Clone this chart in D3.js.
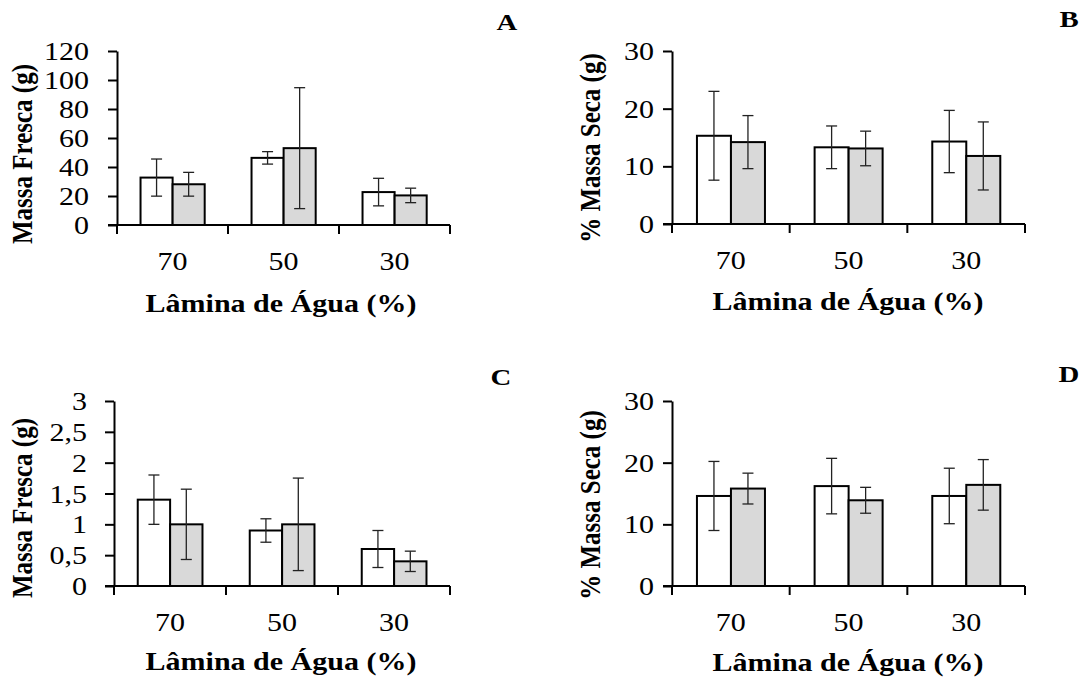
<!DOCTYPE html>
<html>
<head>
<meta charset="utf-8">
<script src="https://cdn.jsdelivr.net/npm/d3@7"></script>
<style>
  body { margin: 0; background: #fff; }
  svg { display: block; }
</style>
</head>
<body>
<div id="chart"></div>
<script>
// Water depth categories (x axis)
const categories = ["70", "50", "30"];
const seriesNames = ["Tratamento 1", "Tratamento 2"];

// Panel A - fresh mass
const aWhite = [32.7, 46.3, 22.7];
const aWhiteErr = [12.8, 4.3, 9.5];
const aGray = [28.1, 53.0, 20.4];
const aGrayErr = [8.2, 41.7, 5.0];
const aTicks = [0, 20, 40, 60, 80, 100, 120];

// Panel B - % dry mass
const bWhite = [15.3, 13.3, 14.3];
const bWhiteErr = [7.7, 3.7, 5.4];
const bGray = [14.2, 13.1, 11.8];
const bGrayErr = [4.6, 3.0, 5.9];
const bTicks = [0, 10, 20, 30];

// Panel C - fresh mass
const cWhite = [1.4, 0.9, 0.6];
const cWhiteErr = [0.4, 0.19, 0.3];
const cGray = [1.0, 1.0, 0.4];
const cGrayErr = [0.57, 0.75, 0.165];
const cTicks = [0, 0.5, 1, 1.5, 2, 2.5, 3];

// Panel D - % dry mass
const dWhite = [14.6, 16.2, 14.6];
const dWhiteErr = [5.6, 4.5, 4.5];
const dGray = [15.8, 13.9, 16.4];
const dGrayErr = [2.5, 2.1, 4.1];
const dTicks = [0, 10, 20, 30];

const width = 1088, height = 679;
const serif = "'Times New Roman', 'Liberation Serif', serif";
const colors = ["#ffffff", "#d9d9d9"];
// the original figure is a bit wider than tall, so text is stretched sideways
const sx = 1.2;

const svg = d3.select("#chart").append("svg")
    .attr("width", width)
    .attr("height", height);

// layout of each panel (plot area in page pixels)
const panels = [
    {letter: "A", ylabel: "Massa Fresca (g)", white: aWhite, whiteErr: aWhiteErr, gray: aGray, grayErr: aGrayErr,
     ticks: aTicks, left: 117, right: 450, top: 51, bottom: 225, labelOff: 28,
     ytitleX: 32, ytitleY: 154, xtitleX: 281, xtitleY: 312, letterX: 507, letterY: 30},
    {letter: "B", ylabel: "% Massa Seca (g)", white: bWhite, whiteErr: bWhiteErr, gray: bGray, grayErr: bGrayErr,
     ticks: bTicks, left: 672, right: 1025, top: 51, bottom: 224, labelOff: 18,
     ytitleX: 600, ytitleY: 148, xtitleX: 848, xtitleY: 310, letterX: 1069, letterY: 27},
    {letter: "C", ylabel: "Massa Fresca (g)", white: cWhite, whiteErr: cWhiteErr, gray: cGray, grayErr: cGrayErr,
     ticks: cTicks, left: 114, right: 450, top: 401, bottom: 586, labelOff: 27,
     ytitleX: 32, ytitleY: 508, xtitleX: 281, xtitleY: 670, letterX: 501, letterY: 385},
    {letter: "D", ylabel: "% Massa Seca (g)", white: dWhite, whiteErr: dWhiteErr, gray: dGray, grayErr: dGrayErr,
     ticks: dTicks, left: 672, right: 1025, top: 401, bottom: 586, labelOff: 18,
     ytitleX: 600, ytitleY: 505, xtitleX: 848, xtitleY: 671, letterX: 1069, letterY: 382}
];

const fmt = v => String(v).replace(".", ",");

panels.forEach(p => {
    const g = svg.append("g");

    const x0 = d3.scaleBand().domain(categories).range([p.left, p.right]).padding(0);
    const x1 = d3.scaleBand().domain(seriesNames)
        .range([x0.bandwidth() * 0.212, x0.bandwidth() * 0.79]).padding(0);
    const y = d3.scaleLinear().domain([0, d3.max(p.ticks)]).range([p.bottom, p.top]);

    // rows of data for bars
    const rows = [];
    categories.forEach((c, i) => {
        rows.push({cat: c, s: seriesNames[0], v: p.white[i], e: p.whiteErr[i], k: 0});
        rows.push({cat: c, s: seriesNames[1], v: p.gray[i], e: p.grayErr[i], k: 1});
    });

    // bars
    g.selectAll("rect.bar").data(rows).enter().append("rect")
        .attr("class", "bar")
        .attr("x", d => x0(d.cat) + x1(d.s))
        .attr("y", d => y(d.v))
        .attr("width", x1.bandwidth())
        .attr("height", d => y(0) - y(d.v))
        .attr("fill", d => colors[d.k])
        .attr("stroke", "#000")
        .attr("stroke-width", 2);

    // error bars
    const cap = 5.5;
    const eb = g.selectAll("g.err").data(rows).enter().append("g").attr("class", "err")
        .attr("stroke", "#222").attr("stroke-width", 1.3);
    const cx = d => x0(d.cat) + x1(d.s) + x1.bandwidth() / 2;
    eb.append("line").attr("x1", cx).attr("x2", cx)
        .attr("y1", d => y(d.v + d.e)).attr("y2", d => y(d.v - d.e));
    eb.append("line").attr("x1", d => cx(d) - cap).attr("x2", d => cx(d) + cap)
        .attr("y1", d => y(d.v + d.e)).attr("y2", d => y(d.v + d.e));
    eb.append("line").attr("x1", d => cx(d) - cap).attr("x2", d => cx(d) + cap)
        .attr("y1", d => y(d.v - d.e)).attr("y2", d => y(d.v - d.e));

    // y axis
    const yAxis = g.append("g")
        .attr("transform", `translate(${p.left},0)`)
        .call(d3.axisLeft(y).tickValues(p.ticks).tickSize(9).tickSizeOuter(0).tickFormat(fmt));
    yAxis.select(".domain").attr("stroke", "#000").attr("stroke-width", 2);
    yAxis.selectAll(".tick line").attr("stroke", "#000").attr("stroke-width", 2);
    yAxis.selectAll(".tick text")
        .attr("x", 0)
        .attr("transform", `translate(${-p.labelOff},0) scale(${sx},1)`)
        .attr("font-family", serif).attr("font-size", 25).attr("fill", "#000").attr("dy", "0.34em");

    // x axis: line with ticks at band boundaries
    g.append("line")
        .attr("x1", p.left - 9).attr("x2", p.right)
        .attr("y1", y(0)).attr("y2", y(0))
        .attr("stroke", "#000").attr("stroke-width", 2);
    const bounds = categories.map(c => x0(c)).concat([x0.range()[1]]);
    g.selectAll("line.xt").data(bounds).enter().append("line")
        .attr("class", "xt")
        .attr("x1", d => d).attr("x2", d => d)
        .attr("y1", y(0)).attr("y2", y(0) + 9)
        .attr("stroke", "#000").attr("stroke-width", 2);
    g.selectAll("text.xl").data(categories).enter().append("text")
        .attr("class", "xl")
        .attr("transform", d => `translate(${x0(d) + x0.bandwidth() / 2},${y(0) + 45}) scale(${sx},1)`)
        .attr("text-anchor", "middle")
        .attr("font-family", serif).attr("font-size", 25)
        .text(d => d);

    // axis titles
    g.append("text")
        .attr("transform", `translate(${p.xtitleX},${p.xtitleY}) scale(${sx},1)`)
        .attr("text-anchor", "middle")
        .attr("font-family", serif).attr("font-size", 25).attr("font-weight", "bold")
        .text("Lâmina de Água (%)");

    g.append("text")
        .attr("transform", `translate(${p.ytitleX},${p.ytitleY}) scale(${sx},1) rotate(-90)`)
        .attr("text-anchor", "middle")
        .attr("font-family", serif).attr("font-size", 25).attr("font-weight", "bold")
        .text(p.ylabel);

    // panel letter
    g.append("text")
        .attr("transform", `translate(${p.letterX},${p.letterY}) scale(${sx},1)`)
        .attr("text-anchor", "middle")
        .attr("font-family", serif).attr("font-size", 24).attr("font-weight", "bold")
        .text(p.letter);
});
</script>
</body>
</html>
